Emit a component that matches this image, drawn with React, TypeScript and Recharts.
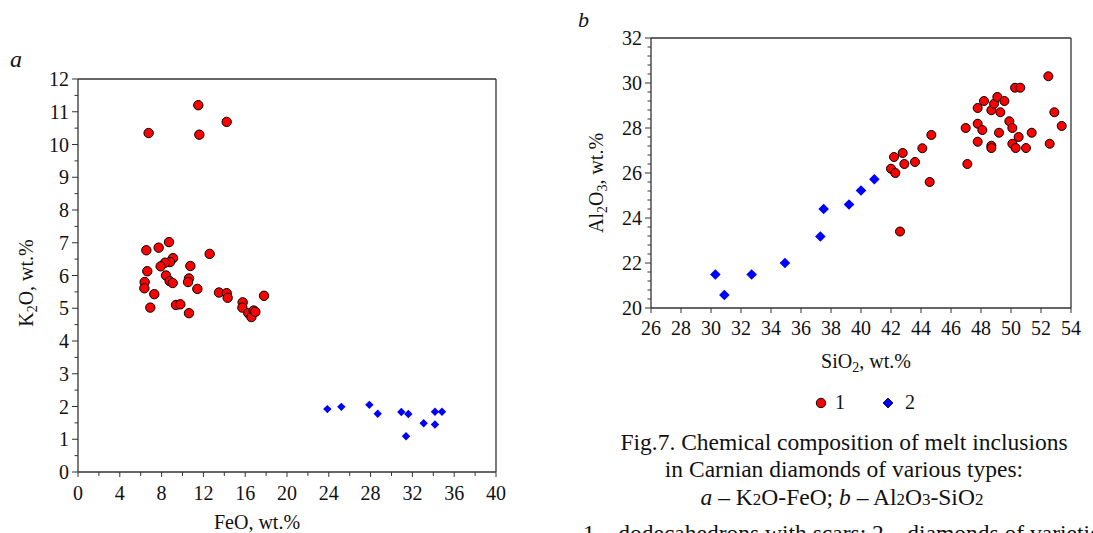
import React from 'react';
import { ScatterChart, Scatter, XAxis, YAxis } from 'recharts';

// ---- Panel a: K2O vs FeO ----
const feoRed = [6.76, 11.51, 11.61, 14.23, 6.54, 7.72, 8.71, 9.09, 8.8, 8.33, 7.91, 6.63, 10.75, 12.6, 8.42, 6.38, 6.35, 8.77, 9.06, 10.62, 10.53, 11.42, 7.3, 6.92, 9.38, 9.79, 10.62, 13.49, 14.23, 14.32, 15.76, 15.73, 16.3, 16.59, 16.81, 16.97, 17.8];
const k2oRed = [10.35, 11.2, 10.3, 10.69, 6.77, 6.85, 7.02, 6.53, 6.41, 6.39, 6.28, 6.13, 6.29, 6.66, 6.0, 5.8, 5.61, 5.83, 5.77, 5.91, 5.8, 5.59, 5.43, 5.02, 5.1, 5.12, 4.85, 5.48, 5.46, 5.32, 5.18, 5.02, 4.85, 4.73, 4.93, 4.89, 5.38];
const feoBlue = [23.86, 25.2, 27.88, 28.68, 30.94, 31.61, 31.39, 33.08, 34.16, 34.16, 34.83];
const k2oBlue = [1.92, 1.99, 2.05, 1.78, 1.83, 1.77, 1.09, 1.49, 1.84, 1.45, 1.84];

// ---- Panel b: Al2O3 vs SiO2 ----
const sio2Red = [42.0, 42.29, 42.2, 42.78, 42.89, 43.6, 44.09, 44.69, 44.58, 46.98, 47.09, 47.78, 47.78, 47.78, 48.09, 48.2, 48.69, 48.87, 49.09, 49.29, 49.56, 49.2, 48.69, 48.69, 49.89, 50.09, 50.09, 50.31, 50.51, 50.27, 50.62, 51.0, 51.38, 52.49, 52.58, 52.89, 53.38, 42.6];
const al2o3Red = [26.19, 26.0, 26.71, 26.89, 26.4, 26.49, 27.1, 27.69, 25.6, 28.0, 26.4, 28.19, 27.39, 28.89, 27.91, 29.2, 28.79, 29.08, 29.38, 28.7, 29.2, 27.79, 27.21, 27.11, 28.3, 28.0, 27.3, 27.11, 27.6, 29.79, 29.79, 27.11, 27.79, 30.3, 27.3, 28.7, 28.09, 23.4];
const sio2Blue = [30.29, 30.89, 32.71, 34.93, 37.29, 37.51, 39.2, 40.0, 40.89];
const al2o3Blue = [21.49, 20.58, 21.49, 22.0, 23.18, 24.4, 24.6, 25.22, 25.72];

// ---- Axis tick labels ----
const feoLabels = [0, 4, 8, 12, 16, 20, 24, 28, 32, 36, 40];
const k2oLabels = [0, 1, 2, 3, 4, 5, 6, 7, 8, 9, 10, 11, 12];
const sio2Labels = [26, 28, 30, 32, 34, 36, 38, 40, 42, 44, 46, 48, 50, 52, 54];
const al2o3Labels = [20, 22, 24, 26, 28, 30, 32];

// minor tick positions
const feoTicks = Array.from({ length: 21 }, (_, i) => i * 2);
const k2oTicks = Array.from({ length: 25 }, (_, i) => i * 0.5);
const al2o3Ticks = Array.from({ length: 31 }, (_, i) => Math.round((20 + i * 0.4) * 100) / 100);

const toPts = (xs: number[], ys: number[]) => xs.map((x, i) => ({ x, y: ys[i] }));
const dataARed = toPts(feoRed, k2oRed);
const dataABlue = toPts(feoBlue, k2oBlue);
const dataBRed = toPts(sio2Red, al2o3Red);
const dataBBlue = toPts(sio2Blue, al2o3Blue);

const FONT = '"Liberation Serif", "Times New Roman", serif';
const AXIS = '#333';
const RED = '#ff0000';
const BLUE = '#0000ff';

const hasLabel = (v: number, labels: number[]) => labels.some((l) => Math.abs(l - v) < 1e-6);

const makeBottomTick = (labels: number[], majorLen: number, minorLen: number, dy: number) => (props: any) => {
  const { x, y, payload } = props;
  const v = payload.value;
  const major = hasLabel(v, labels);
  return (
    <g>
      <line x1={x} x2={x} y1={y} y2={y + (major ? majorLen : minorLen)} stroke={AXIS} strokeWidth={1} />
      {major && (
        <text x={x} y={y + dy} textAnchor="middle" fontSize={20} fontFamily={FONT} fill="#111">
          {Math.round(v)}
        </text>
      )}
    </g>
  );
};

const makeLeftTick = (labels: number[], majorLen: number, minorLen: number, gap: number) => (props: any) => {
  const { x, y, payload } = props;
  const v = payload.value;
  const major = hasLabel(v, labels);
  return (
    <g>
      <line x1={x} x2={x - (major ? majorLen : minorLen)} y1={y} y2={y} stroke={AXIS} strokeWidth={1} />
      {major && (
        <text x={x - gap} y={y + 7} textAnchor="end" fontSize={20} fontFamily={FONT} fill="#111">
          {Math.round(v)}
        </text>
      )}
    </g>
  );
};

const circleShape = (r: number) => (props: any) => (
  <circle cx={props.cx} cy={props.cy} r={r} fill={RED} stroke="#000" strokeWidth={1} />
);
const diamondShape = (h: number) => (props: any) => {
  const { cx, cy } = props;
  return <polygon points={`${cx},${cy - h} ${cx + h},${cy} ${cx},${cy + h} ${cx - h},${cy}`} fill={BLUE} />;
};

const lineStyle = { stroke: AXIS, strokeWidth: 1.3 };

export default function App() {
  return (
    <div
      style={{
        position: 'fixed',
        left: 0,
        top: 0,
        width: 1093,
        height: 533,
        overflow: 'hidden',
        background: '#fff',
        fontFamily: FONT,
      }}
    >
      {/* Panel a */}
      <div style={{ position: 'absolute', left: 0, top: 0 }}>
        <ScatterChart width={540} height={533} margin={{ top: 78, right: 43, bottom: 60, left: 77 }}>
          <XAxis
            dataKey="x"
            type="number"
            domain={[0, 40]}
            ticks={feoTicks}
            interval={0}
            height={1}
            tickSize={0}
            tickMargin={0}
            axisLine={lineStyle}
            tickLine={false}
            tick={makeBottomTick(feoLabels, 5, 4, 28)}
          />
          <XAxis xAxisId="top" orientation="top" dataKey="x" type="number" domain={[0, 40]} ticks={[0, 40]} height={1} tick={false} tickLine={false} axisLine={lineStyle} />
          <YAxis
            dataKey="y"
            type="number"
            domain={[0, 12]}
            ticks={k2oTicks}
            interval={0}
            width={1}
            tickSize={0}
            tickMargin={0}
            axisLine={lineStyle}
            tickLine={false}
            tick={makeLeftTick(k2oLabels, 6, 3.5, 9)}
          />
          <YAxis yAxisId="right" orientation="right" dataKey="y" type="number" domain={[0, 12]} ticks={[0, 12]} width={1} tick={false} tickLine={false} axisLine={lineStyle} />
          <Scatter name="1" data={dataARed} shape={circleShape(4.7)} isAnimationActive={false} />
          <Scatter name="2" data={dataABlue} shape={diamondShape(4.2)} isAnimationActive={false} />
        </ScatterChart>
      </div>

      {/* Panel b */}
      <div style={{ position: 'absolute', left: 560, top: 0 }}>
        <ScatterChart width={533} height={340} margin={{ top: 37, right: 21, bottom: 31, left: 90 }}>
          <XAxis
            dataKey="x"
            type="number"
            domain={[26, 54]}
            ticks={sio2Labels}
            interval={0}
            height={1}
            tickSize={0}
            tickMargin={0}
            axisLine={lineStyle}
            tickLine={false}
            tick={makeBottomTick(sio2Labels, 5, 5, 27)}
          />
          <XAxis xAxisId="top" orientation="top" dataKey="x" type="number" domain={[26, 54]} ticks={[26, 54]} height={1} tick={false} tickLine={false} axisLine={lineStyle} />
          <YAxis
            dataKey="y"
            type="number"
            domain={[20, 32]}
            ticks={al2o3Ticks}
            interval={0}
            width={1}
            tickSize={0}
            tickMargin={0}
            axisLine={lineStyle}
            tickLine={false}
            tick={makeLeftTick(al2o3Labels, 6, 3.5, 9)}
          />
          <YAxis yAxisId="right" orientation="right" dataKey="y" type="number" domain={[20, 32]} ticks={[20, 32]} width={1} tick={false} tickLine={false} axisLine={lineStyle} />
          <Scatter name="1" data={dataBRed} shape={circleShape(4.5)} isAnimationActive={false} />
          <Scatter name="2" data={dataBBlue} shape={diamondShape(5.3)} isAnimationActive={false} />
        </ScatterChart>
      </div>

      {/* Text overlay */}
      <svg width={1093} height={533} style={{ position: 'absolute', left: 0, top: 0, pointerEvents: 'none' }} fontFamily={FONT} fill="#111">
        <text x={10} y={67} fontSize={24} fontStyle="italic">a</text>
        <text x={578} y={27} fontSize={22} fontStyle="italic">b</text>

        <text transform="translate(33,283) rotate(-90)" textAnchor="middle" fontSize={20}>
          K<tspan fontSize={14} dy={4}>2</tspan>
          <tspan dy={-4}>O, wt.%</tspan>
        </text>
        <text x={257} y={529} textAnchor="middle" fontSize={20}>FeO, wt.%</text>

        <text transform="translate(603,183) rotate(-90)" textAnchor="middle" fontSize={20}>
          Al<tspan fontSize={14} dy={4}>2</tspan>
          <tspan dy={-4}>O</tspan>
          <tspan fontSize={14} dy={4}>3</tspan>
          <tspan dy={-4}>, wt.%</tspan>
        </text>
        <text x={866} y={368} textAnchor="middle" fontSize={20}>
          SiO<tspan fontSize={14} dy={4}>2</tspan>
          <tspan dy={-4}>, wt.%</tspan>
        </text>

        <circle cx={821} cy={403} r={4.7} fill={RED} stroke="#000" strokeWidth={1} />
        <text x={835} y={409} fontSize={20}>1</text>
        <polygon points="888,398 893,403 888,408 883,403" fill={BLUE} stroke="#000" strokeWidth={0.8} />
        <text x={905} y={409} fontSize={20}>2</text>

        <text x={844} y={450} textAnchor="middle" fontSize={23.5}>Fig.7. Chemical composition of melt inclusions</text>
        <text x={844} y={477} textAnchor="middle" fontSize={23.5}>in Carnian diamonds of various types:</text>
        <text x={842} y={505} textAnchor="middle" fontSize={23.5}>
          <tspan fontStyle="italic">a</tspan> – K<tspan fontSize={17}>2</tspan>O-FeO; <tspan fontStyle="italic">b</tspan> – Al<tspan fontSize={17}>2</tspan>O<tspan fontSize={17}>3</tspan>-SiO<tspan fontSize={17}>2</tspan>
        </text>
        <text x={583} y={541} fontSize={23.5}>1 – dodecahedrons with scars; 2 – diamonds of varieties V, VII</text>
      </svg>
    </div>
  );
}
